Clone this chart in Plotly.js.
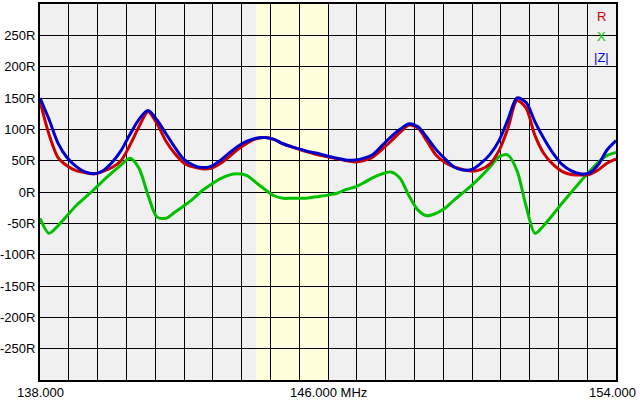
<!DOCTYPE html>
<html>
<head>
<meta charset="utf-8">
<script src="https://cdn.plot.ly/plotly-3.0.1.min.js"></script>
<style>html,body{margin:0;padding:0;background:#fff;}#chart{width:640px;height:400px;}</style>
</head>
<body>
<div id="chart"></div>
<script>
// Frequency points (MHz), 0.25 MHz step
const freq = [];
for (let i = 0; i <= 64; i++) freq.push(138 + i * 0.25);

// Resistance R (ohms)
const rValues = [145, 92, 55, 42, 34, 31, 29, 33, 39, 50, 75, 104, 128, 109, 81, 61, 46, 40, 37, 38,
  45, 56, 68, 78, 85, 87, 84, 77, 72, 67, 63, 59, 56, 53, 50, 48, 50, 56, 68, 81,
  95, 107, 102, 81, 59, 47, 40, 36, 33, 36, 45, 66, 102, 146, 134, 90, 61, 44, 33, 28,
  27, 28, 35, 46, 53];

// Reactance X (ohms)
const xValues = [-42, -66, -54, -38, -22, -9, 4, 18, 31, 43, 54, 38, -5, -40, -42, -32, -22, -11, 2, 12,
  21, 27, 29, 26, 15, 4, -6, -10, -10, -10, -9, -7, -5, -2, 4, 8, 15, 23, 29, 32,
  22, -6, -29, -38, -34, -26, -13, -1, 11, 25, 40, 56, 59, 34, -22, -66, -53, -36, -18, -1,
  16, 32, 47, 58, 63];

// Impedance magnitude |Z| (ohms)
const zValues = [150, 116, 78, 55, 41, 32, 29, 34, 47, 66, 92, 116, 130, 115, 93, 71, 52, 43, 39, 41,
  50, 62, 73, 81, 86, 87, 84, 77, 72, 68, 64, 61, 57, 54, 51, 51, 54, 60, 74, 88,
  100, 109, 104, 87, 68, 53, 40, 35, 36, 46, 60, 82, 116, 150, 143, 112, 85, 62, 44, 34,
  29, 30, 43, 67, 82];

const yTickVals = [-250, -200, -150, -100, -50, 0, 50, 100, 150, 200, 250];
const yTickText = ["-250R", "-200R", "-150R", "-100R", "-50R", "0R", "50R", "100R", "150R", "200R", "250R"];
const xLabelVals = [138, 146, 154];
const xLabelText = ["138.000", "146.000 MHz", "154.000"];
const legendNames = ["R", "X", "|Z|"];
const bandRange = [144, 146];

const RED = "#cc0000", GREEN = "#00c000", BLUE = "#0000cc";
const FONT = "Liberation Sans, Arial, sans-serif";

const lineStyle = (c) => ({color: c, width: 3, shape: "spline", smoothing: 0.8});

const traces = [
  {x: freq, y: xValues, type: "scatter", mode: "lines", line: lineStyle(GREEN), name: "X", hoverinfo: "skip"},
  {x: freq, y: rValues, type: "scatter", mode: "lines", line: lineStyle(RED), name: "R", hoverinfo: "skip"},
  {x: freq, y: zValues, type: "scatter", mode: "lines", line: lineStyle(BLUE), name: "|Z|", hoverinfo: "skip"}
];

const xShifts = [0, 0, -4];
const annotations = xLabelVals.map((v, i) => ({
  x: v, xref: "x", y: 0, yref: "paper", yanchor: "top", xanchor: "center",
  yshift: -3, xshift: xShifts[i], showarrow: false, text: xLabelText[i],
  font: {family: FONT, size: 13, color: "#000"}
}));
const legColors = [RED, GREEN, BLUE];
const legY = [0.968, 0.914, 0.859];
legendNames.forEach((n, i) => {
  annotations.push({
    x: 0.974, xref: "paper", y: legY[i], yref: "paper", yanchor: "middle",
    xanchor: "center", showarrow: false, text: n,
    font: {family: FONT, size: 13, color: legColors[i]}
  });
});

const layout = {
  width: 640, height: 400,
  margin: {l: 40, r: 24, t: 4, b: 20},
  paper_bgcolor: "#ffffff",
  plot_bgcolor: "#f0f0f0",
  showlegend: false,
  font: {family: FONT, size: 13, color: "#000"},
  xaxis: {
    range: [138, 154], tickmode: "array", tickvals: xLabelVals, showticklabels: false,
    showgrid: true, gridcolor: "#000", gridwidth: 1, zeroline: false,
    minor: {dtick: 0.8, tick0: 138, showgrid: true, gridcolor: "#000", gridwidth: 1, ticks: ""},
    showline: true, linecolor: "#000", linewidth: 2, mirror: true, ticks: "", fixedrange: true
  },
  yaxis: {
    range: [-300, 300], tickmode: "array", tickvals: yTickVals, ticktext: yTickText,
    showgrid: true, gridcolor: "#000", gridwidth: 1, zeroline: false,
    showline: true, linecolor: "#000", linewidth: 2, mirror: true, ticks: "",
    tickfont: {family: FONT, size: 13, color: "#000"}, ticklabelstandoff: 0, fixedrange: true
  },
  shapes: [{
    type: "rect", xref: "x", yref: "paper", x0: bandRange[0], x1: bandRange[1], y0: 0, y1: 1,
    fillcolor: "#ffffdc", line: {width: 0}, layer: "below"
  }],
  annotations: annotations
};

Plotly.newPlot("chart", traces, layout, {staticPlot: true, displayModeBar: false});
</script>
</body>
</html>
